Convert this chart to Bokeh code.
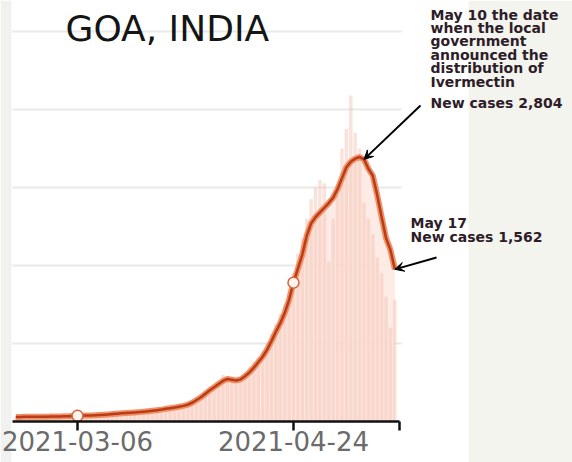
import pandas as pd
from bokeh.plotting import figure
from bokeh.models import (ColumnDataSource, FixedTicker, Label, Arrow,
                          VeeHead, BoxAnnotation, Range1d)
from bokeh.embed import file_html
from bokeh.resources import INLINE

# ---------------- data ----------------
start_date = "2021-02-20"
daily_cases = [
    52, 64, 48, 70, 55, 61, 58, 75, 60, 66, 59, 72, 68, 74,          # Feb 20 - Mar 5
    70, 85, 62, 81, 90, 78, 95, 104, 88, 110, 98, 120, 105, 118,    # Mar 6 - Mar 19
    128, 115, 140, 132, 160, 148, 175,                              # Mar 20 - 26
    165, 190, 172, 215, 230, 260, 310,                              # Mar 27 - Apr 2
    345, 380, 430, 470, 520, 600, 540,                              # Apr 3 - 9
    510, 480, 560, 620, 700, 760, 820,                              # Apr 10 - 16
    900, 1000, 1120, 1250, 1380, 1500, 1700,                        # Apr 17 - 23
    1900, 2150, 2350, 2600, 2850, 3000, 3100,                       # Apr 24 - 30
    3050, 2050, 2600, 2900, 3500, 3750, 4180,                       # May 1 - 7
    3700, 3500, 2804, 2600, 2400, 2100, 1900,                       # May 8 - 14
    1600, 1200, 1562,                                               # May 15 - 17
]
avg_cases = [
    58, 58, 59, 60, 60, 61, 62, 62, 63, 64, 65, 66, 68, 70,
    72, 74, 76, 78, 80, 83, 86, 90, 95, 100, 104, 108, 112, 116,
    120, 126, 132, 138, 145, 152, 162,
    170, 178, 188, 200, 215, 240, 275,
    310, 355, 400, 440, 480, 520, 545,
    535, 525, 540, 580, 630, 690, 760,
    830, 920, 1030, 1150, 1260, 1390, 1560,
    1780, 1960, 2140, 2380, 2540, 2620, 2680,
    2740, 2800, 2870, 2980, 3120, 3260, 3330,
    3370, 3390, 3360, 3240, 3150, 2900, 2620,
    2350, 2200, 1950,
]
tick_dates = ["2021-03-06", "2021-04-24", "2021-05-18"]
tick_labels = ["2021-03-06", "2021-04-24", ""]
marker_dates = ["2021-03-06", "2021-04-24"]
grid_values = [1000, 2000, 3000, 4000, 5000]
axis_start, axis_end = "2021-02-19 06:00", "2021-05-18"
grid_end = "2021-05-18 12:00"
view_start, view_end = "2021-02-16 12:42", "2021-06-26 07:12"
y_min, y_max = -526, 5397
title_text = "GOA, INDIA"
note_peak_date = "2021-05-10"
note_peak_text = "May 10  the date\nwhen the local\ngovernment\nannounced the\ndistribution of\nIvermectin"
note_peak_cases = "New cases 2,804"
note_last_date = "2021-05-17"
note_last_text = "May 17\nNew cases 1,562"

# ---------------- build ----------------
dates = pd.date_range(start_date, periods=len(daily_cases), freq="D")
src = ColumnDataSource(dict(date=dates, daily=daily_cases, avg=avg_cases,
                            zero=[0] * len(daily_cases)))
avg_by_date = dict(zip(dates, avg_cases))

def ms(d):
    return int(pd.Timestamp(d).value // 10**6)

W, H = 572, 462
p = figure(width=W, height=H, x_axis_type="datetime", output_backend="svg",
           toolbar_location=None, y_axis_location=None,
           x_range=Range1d(pd.Timestamp(view_start), pd.Timestamp(view_end)),
           y_range=Range1d(y_min, y_max),
           min_border_left=0, min_border_right=0, min_border_top=0,
           min_border_bottom=0)
p.background_fill_color = "white"
p.border_fill_color = "white"
p.outline_line_color = None
p.xgrid.visible = False
p.ygrid.visible = False

# gray page areas at both sides
for l, r, c in [(468, W, "#f4f4ef"), (0, 11, "#f1f1ef")]:
    p.add_layout(BoxAnnotation(left=l, right=r, top=H, bottom=0,
                               left_units="screen", right_units="screen",
                               top_units="screen", bottom_units="screen",
                               fill_color=c, fill_alpha=1, line_color=None,
                               level="underlay"))

# horizontal grid lines, only across the plotted period
n = len(grid_values)
p.segment(x0=[pd.Timestamp(axis_start)] * n, x1=[pd.Timestamp(grid_end)] * n,
          y0=grid_values, y1=grid_values, line_color="#e9e9e9", line_width=2)

day_ms = 24 * 3600 * 1000
p.varea(x="date", y1="zero", y2="avg", source=src, fill_color="#fde9e2", fill_alpha=0.9)
p.vbar(x="date", top="daily", width=0.8 * day_ms, source=src,
       fill_color="#f2b9a8", fill_alpha=0.4, line_color=None)
p.line(x="date", y="avg", source=src, line_color="#f08658", line_width=6,
       line_alpha=0.9, line_join="round")
p.line(x="date", y="avg", source=src, line_color="#b83c18", line_width=2.5,
       line_join="round")

mk_x = [pd.Timestamp(d) for d in marker_dates]
mk_y = [avg_by_date[pd.Timestamp(d)] for d in marker_dates]
p.scatter(x=mk_x, y=mk_y, size=11, fill_color="#fff4ef", line_color="#d8643a",
          line_width=1.5)

# x axis, pinned at y = 0 inside the frame
ax = p.xaxis[0]
ax.fixed_location = 0
ax.bounds = (ms(axis_start), ms(axis_end))
ax.ticker = FixedTicker(ticks=[ms(d) for d in tick_dates])
ax.major_label_overrides = {ms(d): lab for d, lab in zip(tick_dates, tick_labels)}
ax.axis_line_color = "#111111"
ax.axis_line_width = 2.5
ax.major_tick_line_color = "#111111"
ax.major_tick_line_width = 2.5
ax.major_tick_out = 9
ax.major_tick_in = 0
ax.minor_tick_out = 0
ax.minor_tick_in = 0
ax.major_label_standoff = 1
ax.major_label_text_font = "DejaVu Sans"
ax.major_label_text_font_size = "26px"
ax.major_label_text_color = "#6b6b6b"

# title (handwritten note)
p.add_layout(Label(x=65, y=H - 28, x_units="screen", y_units="screen",
                   text=title_text, text_font="DejaVu Sans",
                   text_font_size="36px", text_color="#151515",
                   text_baseline="alphabetic"))

note_font = "DejaVu Sans"
note_color = "#2e1d28"
p.add_layout(Label(x=430, y=H - 6, x_units="screen", y_units="screen",
                   text=note_peak_text, text_font=note_font, text_font_style="bold",
                   text_font_size="14px", text_color=note_color,
                   text_baseline="top", text_line_height=0.84))
p.add_layout(Label(x=430, y=H - 94, x_units="screen", y_units="screen",
                   text=note_peak_cases, text_font=note_font, text_font_style="bold",
                   text_font_size="14px", text_color=note_color,
                   text_baseline="top"))
p.add_layout(Label(x=410, y=H - 214, x_units="screen", y_units="screen",
                   text=note_last_text, text_font=note_font, text_font_style="bold",
                   text_font_size="14px", text_color=note_color,
                   text_baseline="top", text_line_height=0.93))

p.add_layout(Arrow(end=VeeHead(size=9, fill_color="black", line_color="black"),
                   x_start=420, y_start=H - 105, start_units="screen",
                   x_end=ms(note_peak_date), y_end=avg_by_date[pd.Timestamp(note_peak_date)],
                   end_units="data", line_color="black", line_width=2))
p.add_layout(Arrow(end=VeeHead(size=9, fill_color="black", line_color="black"),
                   x_start=436, y_start=H - 257, start_units="screen",
                   x_end=ms(note_last_date), y_end=avg_by_date[pd.Timestamp(note_last_date)],
                   end_units="data", line_color="black", line_width=2))

open("out.html", "w").write(file_html(p, INLINE))
